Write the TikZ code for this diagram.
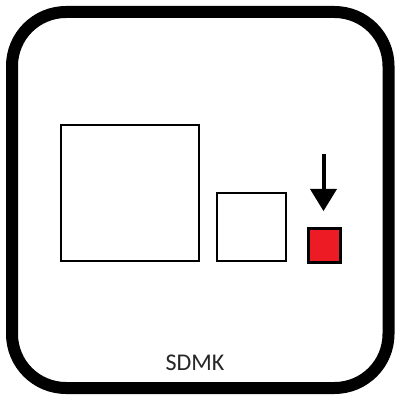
\documentclass[tikz,border=0pt]{standalone}
\usepackage{fontspec}
\setmainfont{Carlito}
\definecolor{sqred}{HTML}{ED1C24}
\begin{document}
\begin{tikzpicture}[x=1pt,y=1pt,
  frame/.style={draw=black,line width=12pt,rounded corners=54pt},
  box/.style={draw=black,line width=2.6pt,fill=white},
  redbox/.style={draw=black,line width=3pt,fill=sqred},
  lbl/.style={font=\fontsize{24}{28}\selectfont,text=black!85}]
\useasboundingbox (0,0) rectangle (396,394);
\draw[frame] (12,6) rectangle (388.5,382);
\path[box] (61,133) rectangle (199,269);
\path[box] (217,133) rectangle (286,201);
\path[redbox] (308,132) rectangle (340,166);
\coordinate (atop) at (323.5,240);
\coordinate (abase) at (323.5,205);
\coordinate (atip) at (323.5,183);
\draw[line width=4pt] (atop) -- (abase);
\fill (310,205) -- (337,205) -- (atip) -- cycle;
\node[lbl] (t) at (195,31) {SDMK};
\end{tikzpicture}
\end{document}
